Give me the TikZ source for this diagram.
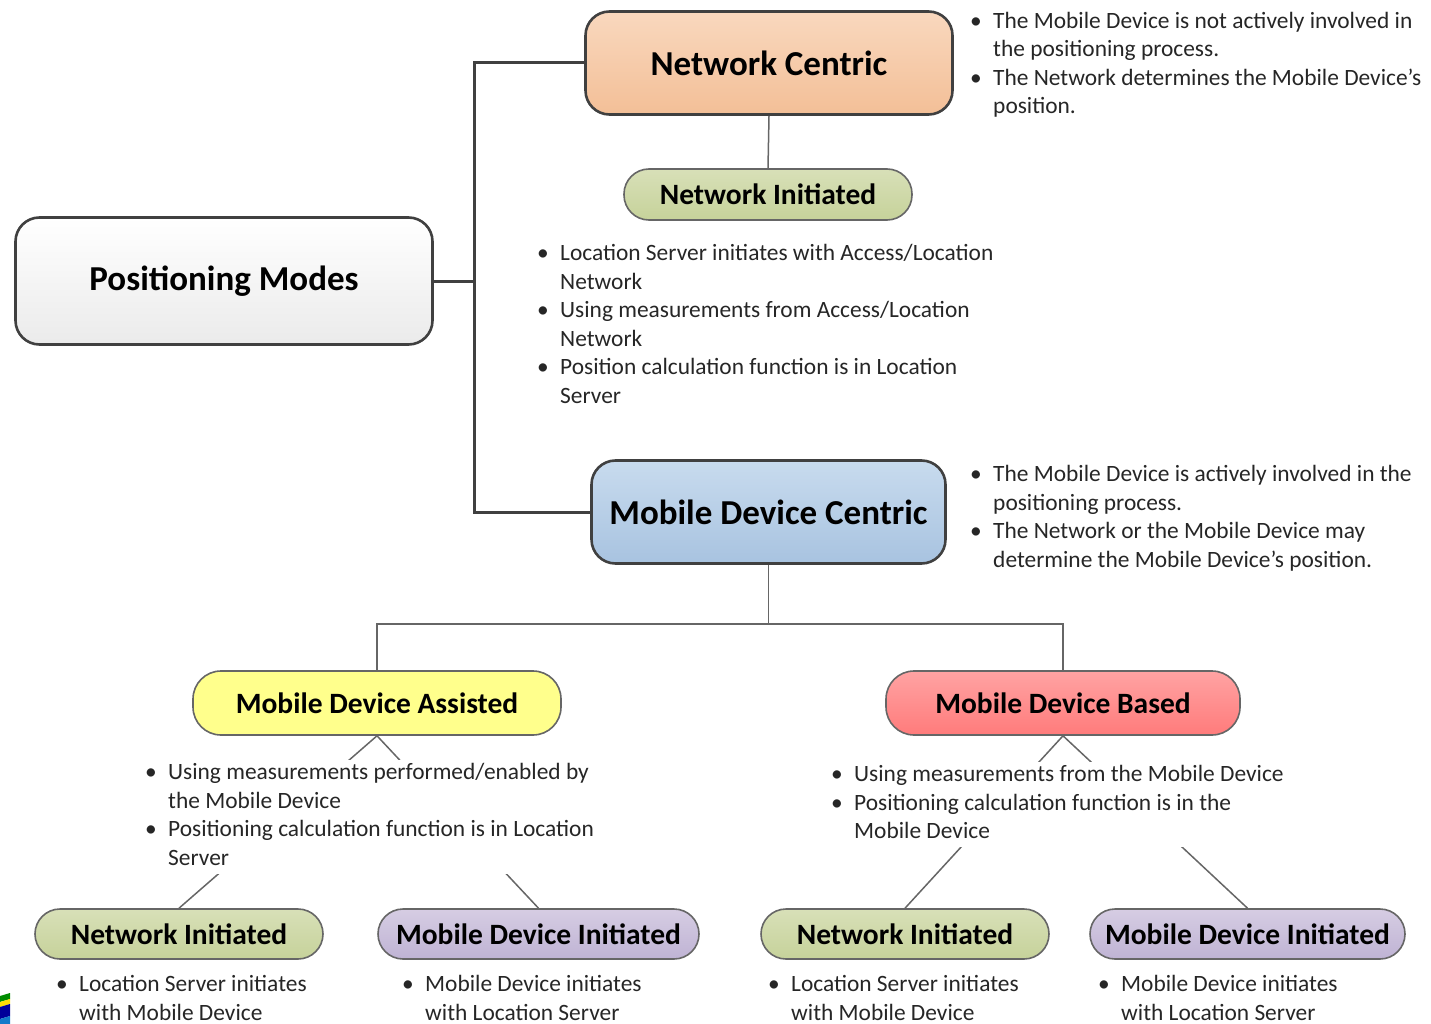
\documentclass[tikz,border=0pt]{standalone}
\usepackage{fontspec}
\setmainfont{Carlito}
\definecolor{nctop}{HTML}{F9D8BE}
\definecolor{ncbot}{HTML}{F3BF97}
\definecolor{mdctop}{HTML}{C8DBEE}
\definecolor{mdcbot}{HTML}{A8C3E0}
\definecolor{olivetop}{HTML}{D8E0B8}
\definecolor{olivebot}{HTML}{C6D29A}
\definecolor{lemon}{HTML}{FFFF8C}
\definecolor{rosetop}{HTML}{FFA3A3}
\definecolor{rosebot}{HTML}{FF7B7B}
\definecolor{lilactop}{HTML}{D6CDE3}
\definecolor{lilacbot}{HTML}{BFB3D4}
\newcommand{\bitem}{\makebox[23pt][l]{\textbullet}}

\begin{document}
\begin{tikzpicture}[x=1pt,y=-1pt,
	modebox/.style={draw=black!75,line width=2.6pt,rounded corners=24pt,font=\fontsize{35}{40}\selectfont\bfseries},
	pill/.style={draw=black!60,line width=1.6pt,rounded corners=25pt,font=\fontsize{29.5}{34}\selectfont\bfseries},
	trunk/.style={draw=black!75,line width=3pt},
	twig/.style={draw=black!60,line width=1.5pt},
	notes/.style={anchor=north west,inner sep=0pt,fill=white,text=black!85,font=\fontsize{23.4}{28.5}\selectfont}]
	\useasboundingbox (0,0) rectangle (1431,1024);

	\node[modebox,top color=white,bottom color=black!8,minimum width=417pt,minimum height=127pt] (pm) at (224,281) {Positioning Modes};
	\node[modebox,top color=nctop,bottom color=ncbot,minimum width=367pt,minimum height=103pt] (nc) at (769,63) {Network Centric};
	\node[pill,top color=olivetop,bottom color=olivebot,minimum width=288pt,minimum height=51pt] (ni) at (768,194.5) {Network Initiated};
	\node[modebox,top color=mdctop,bottom color=mdcbot,minimum width=354pt,minimum height=103pt] (mdc) at (768.5,512) {Mobile Device Centric};
	\node[pill,fill=lemon,minimum width=368pt,minimum height=64pt,rounded corners=28pt] (mda) at (377,703) {Mobile Device Assisted};
	\node[pill,top color=rosetop,bottom color=rosebot,minimum width=354pt,minimum height=64pt,rounded corners=28pt] (mdb) at (1063,703) {Mobile Device Based};
	\node[pill,top color=olivetop,bottom color=olivebot,minimum width=288pt,minimum height=50pt] (nia) at (179,934) {Network Initiated};
	\node[pill,top color=lilactop,bottom color=lilacbot,minimum width=321pt,minimum height=50pt] (mdia) at (538.5,934) {Mobile Device Initiated};
	\node[pill,top color=olivetop,bottom color=olivebot,minimum width=288pt,minimum height=50pt] (nib) at (905,934) {Network Initiated};
	\node[pill,top color=lilactop,bottom color=lilacbot,minimum width=315pt,minimum height=50pt] (mdib) at (1247.5,934) {Mobile Device Initiated};

	\coordinate (spine) at (474,281);
	\coordinate (bus) at (768.5,624);
	\draw[trunk] (nc.west) -| (spine) |- (mdc.west);
	\draw[trunk] (pm.east) -- (spine);
	\draw[twig] (nc.south) -- (ni.north);
	\draw[twig] (mdc.south) -- (bus);
	\draw[twig] (mda.north) |- (bus) -| (mdb.north);
	\draw[twig] (mda.south) -- (nia.north);
	\draw[twig] (mda.south) -- (mdia.north);
	\draw[twig] (mdb.south) -- (nib.north);
	\draw[twig] (mdb.south) -- (mdib.north);

	\node[notes] (ncnotes) at (970,8) {\begin{tabular}{@{}l@{}l@{}}
		\bitem & The Mobile Device is not actively involved in\\
		& the positioning process.\\
		\bitem & The Network determines the Mobile Device’s\\
		& position.
	\end{tabular}};
	\node[notes] (ninotes) at (537,240.5) {\begin{tabular}{@{}l@{}l@{}}
		\bitem & Location Server initiates with Access/Location\\
		& Network\\
		\bitem & Using measurements from Access/Location\\
		& Network\\
		\bitem & Position calculation function is in Location\\
		& Server
	\end{tabular}};
	\node[notes] (mdcnotes) at (970,461.5) {\begin{tabular}{@{}l@{}l@{}}
		\bitem & The Mobile Device is actively involved in the\\
		& positioning process.\\
		\bitem & The Network or the Mobile Device may\\
		& determine the Mobile Device’s position.
	\end{tabular}};
	\node[notes] (mdanotes) at (145,759.5) {\begin{tabular}{@{}l@{}l@{}}
		\bitem & Using measurements performed/enabled by\\
		& the Mobile Device\\
		\bitem & Positioning calculation function is in Location\\
		& Server
	\end{tabular}};
	\node[notes] (mdbnotes) at (831,761.5) {\begin{tabular}{@{}l@{}l@{}}
		\bitem & Using measurements from the Mobile Device\\
		\bitem & Positioning calculation function is in the\\
		& Mobile Device
	\end{tabular}};
	\node[notes] (nianotes) at (56,971.5) {\begin{tabular}{@{}l@{}l@{}}
		\bitem & Location Server initiates\\
		& with Mobile Device
	\end{tabular}};
	\node[notes] (mdianotes) at (402,971.5) {\begin{tabular}{@{}l@{}l@{}}
		\bitem & Mobile Device initiates\\
		& with Location Server
	\end{tabular}};
	\node[notes] (nibnotes) at (768,971.5) {\begin{tabular}{@{}l@{}l@{}}
		\bitem & Location Server initiates\\
		& with Mobile Device
	\end{tabular}};
	\node[notes] (mdibnotes) at (1098,971.5) {\begin{tabular}{@{}l@{}l@{}}
		\bitem & Mobile Device initiates\\
		& with Location Server
	\end{tabular}};

	\fill[green!55!black] (0,996) -- (10,993) -- (10,999) -- (0,1002) -- cycle;
	\fill[yellow!80!orange] (0,1002) -- (10,999) -- (10,1004) -- (0,1007) -- cycle;
	\fill[blue!60!black] (0,1007) -- (10,1004) -- (10,1016) -- (0,1019) -- cycle;
	\fill[cyan!60!blue] (0,1019) -- (10,1016) -- (10,1024) -- (0,1024) -- cycle;
\end{tikzpicture}
\end{document}
